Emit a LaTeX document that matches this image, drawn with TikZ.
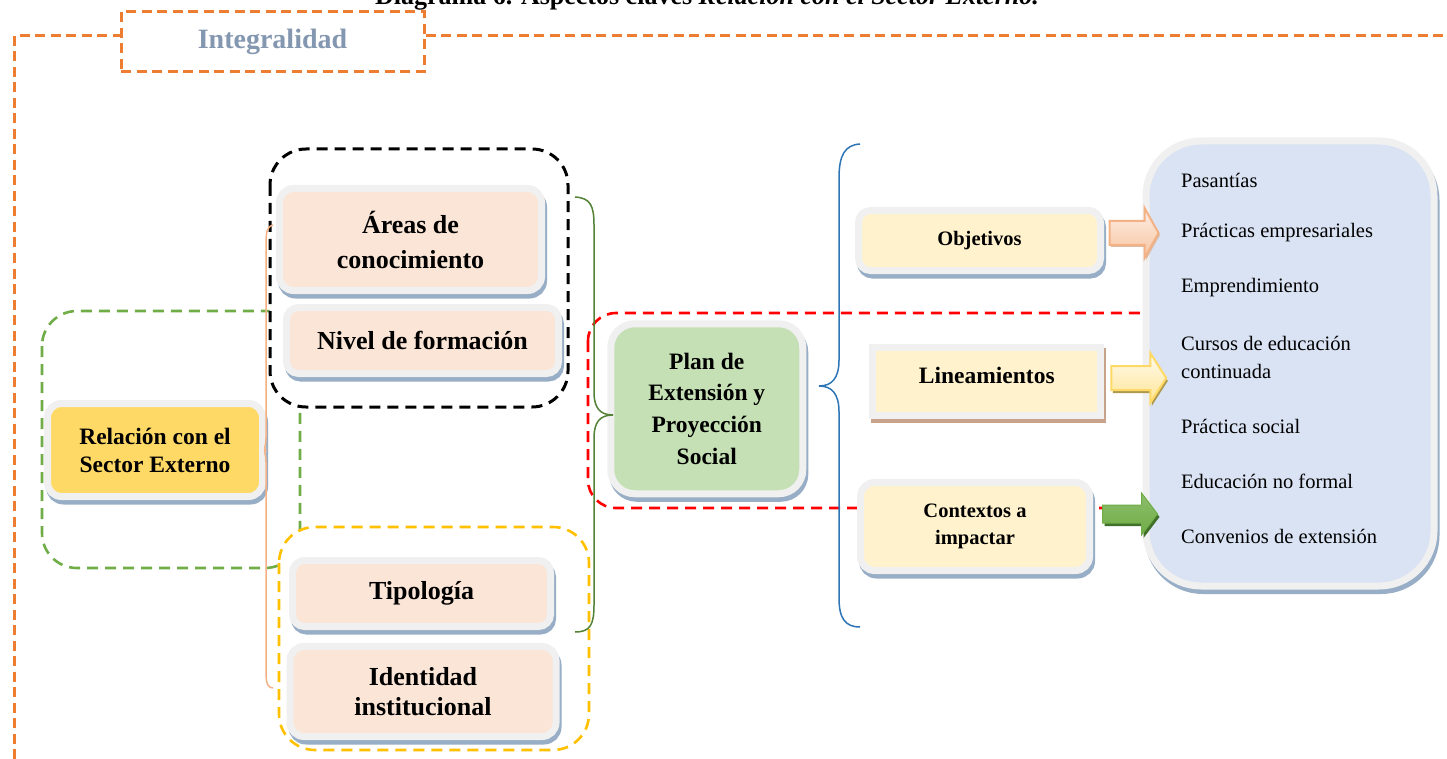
\documentclass[tikz,border=0pt]{standalone}
\usepackage{fontspec}
\setmainfont{Liberation Serif}
\usetikzlibrary{calc,shadows}
\definecolor{orangeD}{HTML}{ED7D31}
\definecolor{integc}{HTML}{8497B0}
\definecolor{gdashc}{HTML}{70AD47}
\definecolor{rdashc}{HTML}{FF0000}
\definecolor{ydashc}{HTML}{FFC000}
\definecolor{frameg}{HTML}{F0F0F0}
\definecolor{shadowb}{HTML}{97AEC6}
\definecolor{shadowbr}{HTML}{C9A28C}
\definecolor{pinkf}{HTML}{FBE5D6}
\definecolor{yelf}{HTML}{FFD966}
\definecolor{greenf}{HTML}{C5E0B4}
\definecolor{creamf}{HTML}{FFF2CC}
\definecolor{bluef}{HTML}{DAE3F3}
\definecolor{obracec}{HTML}{F4B183}
\definecolor{gbracec}{HTML}{548235}
\definecolor{bbracec}{HTML}{2E75B6}
\definecolor{arrO}{HTML}{F4B183}
\definecolor{arrOl}{HTML}{FDEEE4}
\definecolor{arrY}{HTML}{FFD966}
\definecolor{arrYl}{HTML}{FFFBEF}
\definecolor{arrG}{HTML}{70AD47}
\definecolor{arrGd}{HTML}{41702A}
\begin{document}
\begin{tikzpicture}[x=1pt,y=-1pt,
  odash/.style={draw=orangeD, line width=3pt, dash pattern=on 10pt off 5.5pt},
  gdash/.style={draw=gdashc, line width=2.6pt, dash pattern=on 11pt off 7pt},
  rdash/.style={draw=rdashc, line width=2.6pt, dash pattern=on 11pt off 7pt},
  kdash/.style={draw=black, line width=3pt, dash pattern=on 11pt off 7pt, fill=white},
  ydash/.style={draw=ydashc, line width=2.6pt, dash pattern=on 11pt off 7pt, fill=white},
  bevel/.style={draw=frameg, line width=7pt, inner sep=0pt, align=center, text=black,
     general shadow={shadow xshift=2pt, shadow yshift=-4.5pt, fill=shadowb, draw=shadowb, line width=7pt}},
  brace/.style={line width=1.5pt},
  listitem/.style={anchor=west, inner sep=0pt, align=left, font=\fontsize{20.5}{28}\selectfont}
]
\clip (0,0) rectangle (1447,759);
\fill[white] (0,0) rectangle (1447,759);

% title (cut off by the page top, as in the source)
\node[anchor=base, inner sep=0pt, font=\fontsize{26}{30}\selectfont\bfseries] (title) at (707,5)
  {Diagrama 6. Aspectos claves \textit{Relación con el Sector Externo.}};

% Integralidad frame
\coordinate (otop) at (0,36);
\node[draw=orangeD, line width=3pt, dash pattern=on 10pt off 5.5pt, fill=white,
      minimum width=303pt, minimum height=60pt, inner sep=0pt,
      text=integc, font=\fontsize{28}{32}\selectfont\bfseries] (integ) at (272.5,42) {Integralidad};
\coordinate (obot) at (14,759);
\draw[odash] (obot) -- (14,36) -- (integ.west |- otop);
\draw[odash] (integ.east |- otop) -- (1447,36);

% dashed groups
\draw[gdash, rounded corners=35pt] (42,311) rectangle (300,568);
\draw[rdash, rounded corners=28pt] (588,313) rectangle (1250,508);
\draw[kdash, rounded corners=36pt] (270,149) rectangle (568,407);
\draw[ydash, rounded corners=36pt] (279,527) rectangle (589,750);

% boxes
\node[bevel, fill=yelf, rounded corners=14pt, minimum width=215pt, minimum height=93pt,
      font=\fontsize{23.5}{28}\selectfont\bfseries] (rel) at (155,450) {Relación con el\\Sector Externo};
\node[bevel, fill=pinkf, rounded corners=14pt, minimum width=262pt, minimum height=102pt,
      font=\fontsize{26}{35}\selectfont\bfseries] (areas) at (410.5,239.5) {Áreas de\\conocimiento};
\node[bevel, fill=pinkf, rounded corners=12pt, minimum width=272pt, minimum height=66pt,
      font=\fontsize{26}{35}\selectfont\bfseries] (nivel) at (422.5,340.5) {Nivel de formación};
\node[bevel, fill=pinkf, rounded corners=12pt, minimum width=258pt, minimum height=66pt,
      font=\fontsize{26}{35}\selectfont\bfseries] (tipo) at (421.5,593.5) {Tipología};
\node[bevel, fill=pinkf, rounded corners=14pt, minimum width=266pt, minimum height=90pt,
      font=\fontsize{26}{30}\selectfont\bfseries] (ident) at (423,691.5) {Identidad\\institucional};
\node[bevel, fill=greenf, rounded corners=24pt, minimum width=192pt, minimum height=170pt,
      font=\fontsize{23.5}{31.7}\selectfont\bfseries] (plan) at (706.75,408.75) {Plan de\\Extensión y\\Proyección\\Social};
\node[bevel, fill=creamf, rounded corners=12pt, minimum width=242pt, minimum height=60pt,
      font=\fontsize{20.5}{26}\selectfont\bfseries] (obj) at (979.5,240.5) {Objetivos};
\node[draw=frameg, line width=7pt, inner sep=0pt, align=center, fill=creamf,
      general shadow={shadow xshift=2pt, shadow yshift=-4.5pt, fill=shadowbr, draw=shadowbr, line width=7pt},
      minimum width=228pt, minimum height=68pt,
      font=\fontsize{23.5}{28}\selectfont\bfseries] (lin) at (986.75,381.25) {\raisebox{12pt}{Lineamientos}};
\node[bevel, fill=creamf, rounded corners=14pt, minimum width=229pt, minimum height=88pt,
      font=\fontsize{20.5}{27}\selectfont\bfseries] (ctx) at (975,526.5) {Contextos a\\impactar};
\node[bevel, fill=bluef, rounded corners=55pt, minimum width=288pt, minimum height=445pt] (lista) at (1290,363.5) {};

% braces
\coordinate (obT) at (273,225);
\coordinate (obB) at (273,688);
\draw[brace, draw=obracec] (obT) .. controls (267,226) and (266,232) .. (266,245) -- (266,438)
   .. controls (266,447) and (263,450) .. (rel.east)
   .. controls (263,450) and (266,453) .. (266,462) -- (266,672)
   .. controls (266,684) and (268,688) .. (obB);
\coordinate (gbT) at (575,197);
\coordinate (gbB) at (575,632);
\coordinate (gbC) at (613,415);
\draw[brace, draw=gbracec] (gbT) .. controls (590,198) and (594,205) .. (594,225) -- (594,392)
   .. controls (594,408) and (600,415) .. (gbC)
   .. controls (600,415) and (594,422) .. (594,438) -- (594,605)
   .. controls (594,625) and (590,632) .. (gbB);
\coordinate (bbT) at (860,144);
\coordinate (bbB) at (860,627);
\coordinate (bbC) at (819,386);
\draw[brace, draw=bbracec] (bbT) .. controls (845,145) and (839,155) .. (839,178) -- (839,360)
   .. controls (839,378) and (832,386) .. (bbC)
   .. controls (832,386) and (839,394) .. (839,412) -- (839,598)
   .. controls (839,618) and (845,627) .. (bbB);

% block arrows
\path[draw=arrO, line width=2pt, top color=arrOl, bottom color=arrO!75,
      general shadow={shadow xshift=1.5pt, shadow yshift=-2pt, fill=arrO!80!black!60}]
  ($(obj.east)+(5.5,-19.5)$) coordinate (oa) -- ++(35,0) -- ++(0,-13) -- ++(14,25) -- ++(-14,25) -- ++(0,-13) -- ++(-35,0) -- cycle;
\path[draw=arrY, line width=2pt, top color=arrYl, bottom color=arrY!70,
      general shadow={shadow xshift=1.5pt, shadow yshift=-3pt, fill=shadowbr!70!yellow!80!black}]
  ($(lin.east)+(7,-15.25)$) coordinate (la) -- ++(39,0) -- ++(0,-13) -- ++(16,25) -- ++(-16,25) -- ++(0,-13) -- ++(-39,0) -- cycle;
\path[draw=arrG, line width=1pt, top color=arrG!80!white, bottom color=arrG,
      general shadow={shadow xshift=2pt, shadow yshift=-3pt, fill=arrGd}]
  ($(ctx.east)+(9.5,-21.5)$) coordinate (ca) -- ++(39,0) -- ++(0,-12) -- ++(16,21) -- ++(-16,21) -- ++(0,-12) -- ++(-39,0) -- cycle;

% list
\node[listitem] (l1) at (1181,180) {Pasantías};
\node[listitem] (l2) at (1181,233) {Prácticas empresariales};
\node[listitem] (l3) at (1181,288) {Emprendimiento};
\node[listitem] (l4) at (1181,357) {Cursos de educación\\continuada};
\node[listitem] (l5) at (1181,426) {Práctica social};
\node[listitem] (l6) at (1181,481) {Educación no formal};
\node[listitem] (l7) at (1181,536) {Convenios de extensión};
\end{tikzpicture}
\end{document}
